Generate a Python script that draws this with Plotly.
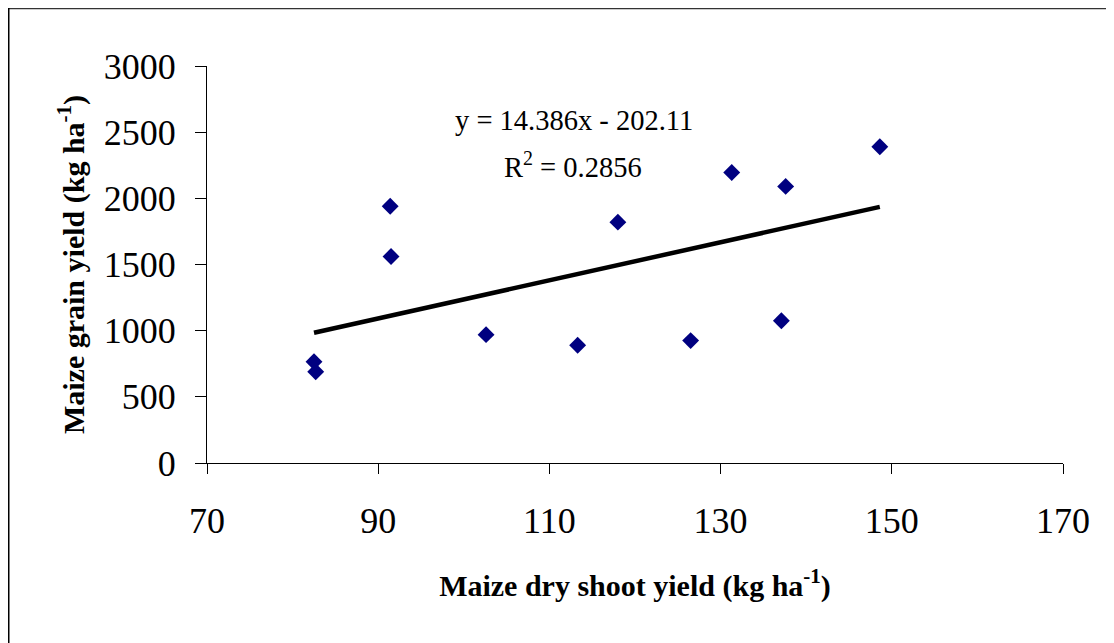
import plotly.graph_objects as go

# Data
shoot_yield = [82.5, 82.7, 91.4, 91.5, 102.6, 113.3, 118.0, 126.5, 131.3, 137.1, 137.6, 148.6]
grain_yield = [765, 690, 1940, 1560, 970, 890, 1820, 925, 2195, 1075, 2090, 2390]

slope = 14.386
intercept = -202.11
r2 = 0.2856

x_ticks = [70, 90, 110, 130, 150, 170]
y_ticks = [0, 500, 1000, 1500, 2000, 2500, 3000]

x_min, x_max = min(shoot_yield), max(shoot_yield)
trend_x = [x_min, x_max]
trend_y = [slope * v + intercept for v in trend_x]

fig = go.Figure()
fig.add_trace(go.Scatter(
    x=shoot_yield, y=grain_yield, mode="markers",
    marker=dict(symbol="diamond", size=13, color="#000080", line=dict(width=0)),
    showlegend=False, hoverinfo="x+y"))
fig.add_trace(go.Scatter(
    x=trend_x, y=trend_y, mode="lines",
    line=dict(color="black", width=4.5),
    showlegend=False, hoverinfo="skip"))

serif = "Liberation Serif, Times New Roman, serif"

# page body adds an 8px offset; compensate so the plot area sits at x 207-1063, y 66-463
W, H = 1106, 635
L, T = 199, 58
PW, PH = 856, 397

fig.update_layout(
    width=W, height=H,
    margin=dict(l=L, r=W - L - PW, t=T, b=H - T - PH),
    paper_bgcolor="white", plot_bgcolor="white",
    font=dict(family=serif, color="black"),
    xaxis=dict(
        range=[70, 170], tickvals=x_ticks, ticks="outside", ticklen=10, tickcolor="black",
        showline=True, linecolor="black", linewidth=1.3, showgrid=False, zeroline=False,
        tickfont=dict(family=serif, size=36, color="black"), ticklabelstandoff=16,
        title=dict(text="<b>Maize dry shoot yield (kg ha<sup>-1</sup>)</b>",
                   font=dict(family=serif, size=30, color="black"), standoff=34),
    ),
    yaxis=dict(
        range=[0, 3000], tickvals=y_ticks, ticks="outside", ticklen=11, tickcolor="black",
        showline=True, linecolor="black", linewidth=1.3, showgrid=False, zeroline=False,
        tickfont=dict(family=serif, size=36, color="black"), ticklabelstandoff=12,
        title=dict(text="<b>Maize grain yield (kg ha<sup>-1</sup>)</b>",
                   font=dict(family=serif, size=30, color="black"), standoff=10),
    ),
    annotations=[
        dict(x=(453 - 207) / PW, y=(463 - 120) / PH, xref="paper", yref="paper",
             xanchor="left", yanchor="middle",
             text=f"y = {slope}x - {abs(intercept)}", showarrow=False,
             font=dict(family=serif, size=28.5, color="black")),
        dict(x=(502 - 207) / PW, y=(463 - 165) / PH, xref="paper", yref="paper",
             xanchor="left", yanchor="middle",
             text=f"R<sup>2</sup> = {r2}", showarrow=False,
             font=dict(family=serif, size=28.5, color="black")),
    ],
    shapes=[
        dict(type="line", xref="paper", yref="paper",
             x0=-L / PW, x1=(W - L) / PW,
             y0=(PH + T - 0) / PH, y1=(PH + T - 0) / PH,
             line=dict(color="#333333", width=2.5)),
        dict(type="line", xref="paper", yref="paper",
             x0=(-L + 0.5) / PW, x1=(-L + 0.5) / PW,
             y0=(PH + T) / PH, y1=-(H - T - PH) / PH,
             line=dict(color="black", width=2)),
    ],
)

fig.write_html("out.html")
